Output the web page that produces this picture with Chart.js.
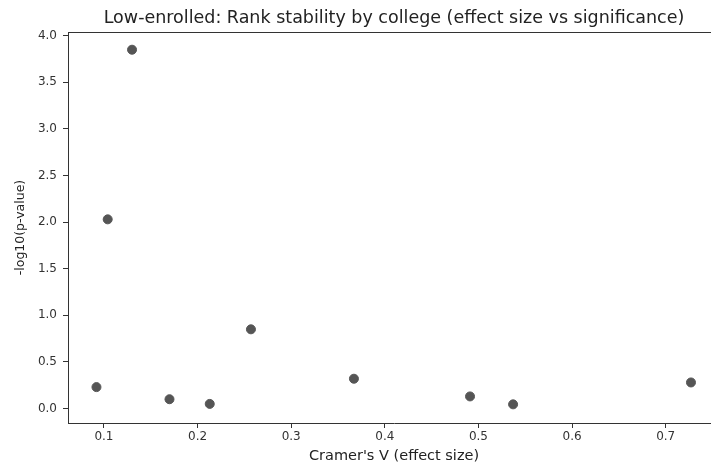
<!DOCTYPE html>
<html>
<head>
<meta charset="utf-8">
<script src="https://cdn.jsdelivr.net/npm/chart.js@4/dist/chart.umd.min.js"></script>
<style>
  html, body { margin: 0; padding: 0; background: #fff; overflow: hidden; }
  #wrap { width: 720px; height: 466px; position: relative; }
</style>
</head>
<body>
<div id="wrap"><canvas id="chart"></canvas></div>
<script>
// Data
const cramersV = [0.092, 0.130, 0.104, 0.170, 0.213, 0.257, 0.367, 0.491, 0.537, 0.727];
const negLogP = [0.23, 3.85, 2.03, 0.10, 0.05, 0.85, 0.32, 0.13, 0.045, 0.28];
const xTicks = [0.1, 0.2, 0.3, 0.4, 0.5, 0.6, 0.7];
const yTicks = [0.0, 0.5, 1.0, 1.5, 2.0, 2.5, 3.0, 3.5, 4.0];

const points = cramersV.map((v, i) => ({ x: v, y: negLogP[i] }));

// Center the title over the plot area (like matplotlib) and draw the top spine
const axesFrame = {
    id: 'axesFrame',
    afterLayout(chart) {
        const t = chart.titleBlock;
        if (t) {
            t.left = chart.chartArea.left;
            t.right = chart.chartArea.right;
            t.width = t.right - t.left;
        }
    },
    afterDraw(chart) {
        const { ctx, chartArea } = chart;
        ctx.save();
        ctx.strokeStyle = '#333';
        ctx.lineWidth = 1;
        ctx.beginPath();
        ctx.moveTo(chartArea.left, chartArea.top + 0.5);
        ctx.lineTo(chartArea.right, chartArea.top + 0.5);
        ctx.stroke();
        ctx.restore();
    }
};

const ctx = document.getElementById('chart').getContext('2d');
new Chart(ctx, {
    type: 'scatter',
    data: {
        datasets: [{
            data: points,
            backgroundColor: '#555',
            borderColor: '#555',
            pointRadius: 4.5,
            pointHoverRadius: 4.5
        }]
    },
    options: {
        responsive: true,
        maintainAspectRatio: false,
        animation: false,
        layout: { autoPadding: false, padding: 0 },
        plugins: {
            legend: { display: false },
            tooltip: { enabled: false },
            title: {
                display: true,
                text: 'Low-enrolled: Rank stability by college (effect size vs significance)',
                color: '#222',
                font: { family: 'DejaVu Sans', size: 17.5, weight: 'normal' },
                padding: { top: 8, bottom: 3 }
            }
        },
        scales: {
            x: {
                type: 'linear',
                min: 0.0616,
                max: 0.758,
                afterFit: s => { s.height = 43; },
                afterBuildTicks: s => { s.ticks = xTicks.map(v => ({ value: v })); },
                ticks: {
                    color: '#333',
                    font: { family: 'DejaVu Sans', size: 12 },
                    padding: 2,
                    maxRotation: 0,
                    callback: v => v.toFixed(1)
                },
                grid: { drawOnChartArea: false, tickLength: 5, color: '#333' },
                border: { color: '#333', width: 1 },
                title: {
                    display: true,
                    text: "Cramer's V (effect size)",
                    color: '#222',
                    font: { family: 'DejaVu Sans', size: 14.5 },
                    padding: { top: 0, bottom: 1 }
                }
            },
            y: {
                type: 'linear',
                min: -0.155,
                max: 4.04,
                afterFit: s => { s.width = 68; },
                afterBuildTicks: s => { s.ticks = yTicks.map(v => ({ value: v })); },
                ticks: {
                    color: '#333',
                    font: { family: 'DejaVu Sans', size: 12 },
                    padding: 6,
                    callback: v => v.toFixed(1)
                },
                grid: { drawOnChartArea: false, tickLength: 5, color: '#333' },
                border: { color: '#333', width: 1 },
                title: {
                    display: true,
                    text: '-log10(p-value)',
                    color: '#222',
                    font: { family: 'DejaVu Sans', size: 12.5 },
                    padding: { top: 13, bottom: 0 }
                }
            }
        }
    },
    plugins: [axesFrame]
});
</script>
</body>
</html>
